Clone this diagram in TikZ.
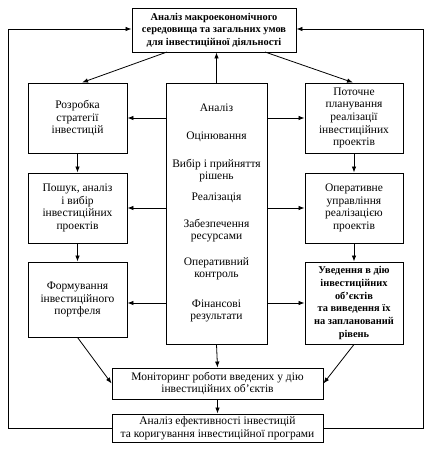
\documentclass[tikz,border=0pt]{standalone}
\usepackage{fontspec}
\setmainfont{Liberation Serif}
\usetikzlibrary{arrows.meta}
\begin{document}
\begin{tikzpicture}[x=1pt,y=-1pt,
  box/.style={draw,line width=0.9pt,inner sep=0pt,align=center,font=\fontsize{11.5}{12.7}\selectfont},
  bbox/.style={box,font=\fontsize{10.4}{12.7}\selectfont\bfseries},
  txt/.style={inner sep=0pt,align=center,font=\fontsize{11.5}{12.2}\selectfont},
  arr/.style={line width=0.8pt,-{Latex[length=6pt,width=4.5pt]}},
  ln/.style={line width=0.8pt}]
\useasboundingbox (0,0) rectangle (431,457);
\node[bbox,minimum width=164pt,minimum height=44pt] (top) at (214,30) {Аналіз макроекономічного\\середовища та загальних умов\\для інвестиційної діяльності};
\node[box,minimum width=99pt,minimum height=70pt] (l1) at (77.5,118) {Розробка\\стратегії\\інвестицій};
\node[box,minimum width=99pt,minimum height=70pt] (l2) at (77.5,208) {Пошук, аналіз\\і вибір\\інвестиційних\\проектів};
\node[box,minimum width=99pt,minimum height=75pt] (l3) at (77.5,299.5) {Формування\\інвестиційного\\портфеля};
\node[box,minimum width=101pt,minimum height=261pt] (c) at (216.5,213.5) {};
\node[box,minimum width=98pt,minimum height=70pt] (r1) at (354,118) {Поточне\\планування\\реалізації\\інвестиційних\\проектів};
\node[box,minimum width=98pt,minimum height=70pt] (r2) at (354,208) {Оперативне\\управління\\реалізацією\\проектів};
\node[bbox,minimum width=98pt,minimum height=82pt] (r3) at (354,303) {Уведення в дію\\інвестиційних\\об’єктів\\та виведення їх\\на запланований\\рівень};
\node[box,minimum width=211pt,minimum height=31pt] (mon) at (217.5,383.5) {Моніторинг роботи введених у дію\\інвестиційних об’єктів};
\node[box,minimum width=211pt,minimum height=28pt] (bot) at (217.5,428) {Аналіз ефективності інвестицій\\та коригування інвестиційної програми};
% centre items
\node[txt] (c1) at (216.5,108) {Аналіз};
\node[txt] (c2) at (216.5,137) {Оцінювання};
\node[txt] (c3) at (216.5,171) {Вибір і прийняття\\рішень};
\node[txt] (c4) at (216.5,198) {Реалізація};
\node[txt] (c5) at (216.5,231) {Забезпечення\\ресурсами};
\node[txt] (c6) at (216.5,269) {Оперативний\\контроль};
\node[txt] (c7) at (216.5,311) {Фінансові\\результати};
% arrows
\coordinate (tl) at (167,52);
\coordinate (tr) at (265,52);
\draw[arr] (tl) -- (l1.north -| 82,0);
\draw[arr] (tr) -- (r1.north -| 353,0);
\draw[arr] (c.north) -- (c.north |- top.south);
\foreach \y/\a/\b in {118/l1/r1,208/l2/r2,303/l3/r3}{
  \draw[arr] (c.west |- 0,\y) -- (\a.east |- 0,\y);
  \draw[arr] (c.east |- 0,\y) -- (\b.west |- 0,\y);
}
\draw[arr] (l1.south) -- (l2.north);
\draw[arr] (l2.south) -- (l3.north);
\draw[arr] (r1.south) -- (r2.north);
\draw[arr] (r2.south) -- (r3.north);
\draw[arr] (l3.south) -- (mon.west);
\draw[arr] (r3.south) -- (mon.east);
\draw[arr] (c.south) -- (mon.north);
\draw[arr] (mon.south) -- (bot.north);
\draw[arr] (bot.west) -- (8,428) -- (8,29) -- (top.west |- 0,29);
\draw[arr] (bot.east) -- (423,428) -- (423,29) -- (top.east |- 0,29);
\end{tikzpicture}
\end{document}
